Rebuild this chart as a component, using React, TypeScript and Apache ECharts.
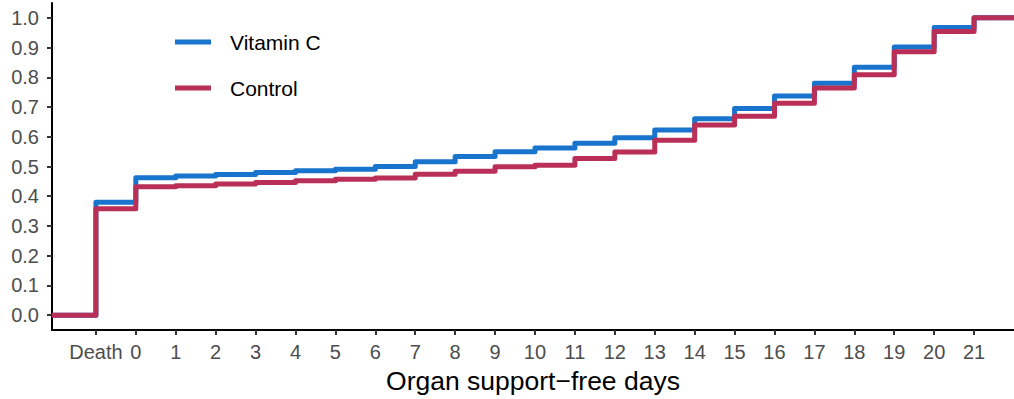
import React, { useEffect, useRef } from "react";
import * as echarts from "echarts";

const dayLabels = ["Death", "0", "1", "2", "3", "4", "5", "6", "7", "8", "9", "10", "11", "12", "13", "14", "15", "16", "17", "18", "19", "20", "21"];
const dayPositions = [-1, 0, 1, 2, 3, 4, 5, 6, 7, 8, 9, 10, 11, 12, 13, 14, 15, 16, 17, 18, 19, 20, 21];
const vitaminC = [0.38, 0.462, 0.468, 0.473, 0.48, 0.486, 0.491, 0.5, 0.516, 0.534, 0.55, 0.562, 0.578, 0.597, 0.623, 0.661, 0.695, 0.737, 0.78, 0.834, 0.902, 0.968, 1.0];
const control = [0.358, 0.432, 0.435, 0.441, 0.446, 0.452, 0.457, 0.461, 0.474, 0.484, 0.499, 0.504, 0.527, 0.549, 0.588, 0.64, 0.669, 0.713, 0.764, 0.809, 0.886, 0.954, 1.0];
const yTicks = [0, 0.1, 0.2, 0.3, 0.4, 0.5, 0.6, 0.7, 0.8, 0.9, 1.0];

const X_MIN = -2.1;
const X_MAX = 22;

function buildSteps(values: number[]): [number, number][] {
  const pts: [number, number][] = [[X_MIN, 0]];
  dayPositions.forEach((x, i) => pts.push([x, values[i]]));
  pts.push([X_MAX, values[values.length - 1]]);
  return pts;
}

export default function App() {
  const ref = useRef<HTMLDivElement>(null);
  useEffect(() => {
    if (!ref.current) return;
    document.body.style.margin = "0";
    document.body.style.overflow = "hidden";
    const chart = echarts.init(ref.current, null, { renderer: "svg" });
    const font = "Liberation Sans, Arial, Helvetica, sans-serif";
    chart.setOption({
      animation: false,
      textStyle: { fontFamily: font },
      grid: { left: 52, right: 0, top: 3, bottom: 66, containLabel: false },
      legend: {
        left: 175,
        top: 30,
        padding: 0,
        orient: "vertical",
        icon: "rect",
        itemWidth: 36,
        itemHeight: 5,
        itemGap: 22,
        data: ["Vitamin C", "Control"],
        textStyle: { fontSize: 21, color: "#000", fontFamily: font, lineHeight: 24, padding: [0, 0, 0, 14] },
      },
      xAxis: {
        type: "value",
        min: X_MIN,
        max: X_MAX,
        name: "Organ support\u2212free days",
        nameLocation: "middle",
        nameGap: 37,
        nameTextStyle: { fontSize: 26.5, color: "#000", fontFamily: font },
        axisLine: { show: true, onZero: false, lineStyle: { color: "#000", width: 2 } },
        axisTick: { show: true, length: 5, lineStyle: { color: "#333", width: 2 }, customValues: dayPositions },
        axisLabel: {
          fontSize: 20,
          color: "#4d4d4d",
          margin: 12,
          fontFamily: font,
          customValues: dayPositions,
          formatter: (v: number) => {
            const i = dayPositions.indexOf(Math.round(v));
            return i >= 0 ? dayLabels[i] : "";
          },
        },
        splitLine: { show: false },
      },
      yAxis: {
        type: "value",
        min: -0.05,
        max: 1.05,
        axisLine: { show: true, onZero: false, lineStyle: { color: "#000", width: 2 } },
        axisTick: { show: true, length: 5, lineStyle: { color: "#333", width: 2 }, customValues: yTicks },
        axisLabel: {
          fontSize: 20,
          color: "#4d4d4d",
          margin: 13,
          fontFamily: font,
          customValues: yTicks,
          formatter: (v: number) => v.toFixed(1),
        },
        splitLine: { show: false },
      },
      series: [
        {
          name: "Vitamin C",
          type: "line",
          step: "end",
          data: buildSteps(vitaminC),
          showSymbol: false,
          symbol: "none",
          itemStyle: { color: "#1874CD" },
          lineStyle: { color: "#1874CD", width: 5, join: "round" },
          z: 2,
        },
        {
          name: "Control",
          type: "line",
          step: "end",
          data: buildSteps(control),
          showSymbol: false,
          symbol: "none",
          itemStyle: { color: "#BA2F57" },
          lineStyle: { color: "#BA2F57", width: 5, join: "round" },
          z: 3,
        },
      ],
    });
    return () => chart.dispose();
  }, []);
  return <div ref={ref} style={{ width: 1014, height: 399 }} />;
}
